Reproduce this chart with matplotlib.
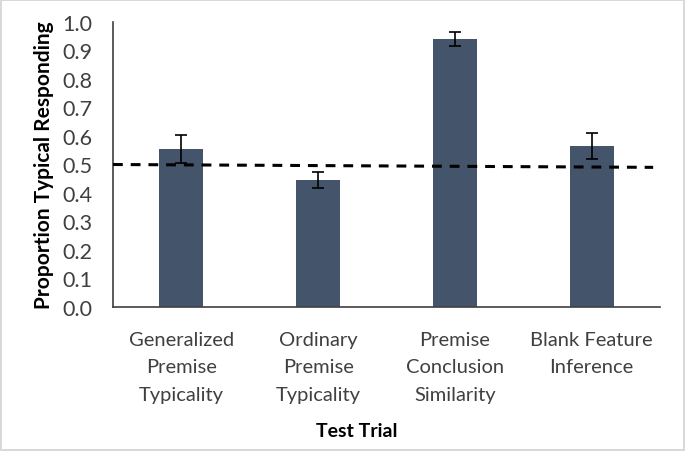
import matplotlib
matplotlib.use("Agg")
import matplotlib.pyplot as plt

categories = ["Generalized\nPremise\nTypicality", "Ordinary\nPremise\nTypicality",
              "Premise\nConclusion\nSimilarity", "Blank Feature\nInference"]
values = [0.555, 0.447, 0.940, 0.565]
errors = [0.050, 0.028, 0.025, 0.047]
yticks = [0.0, 0.1, 0.2, 0.3, 0.4, 0.5, 0.6, 0.7, 0.8, 0.9, 1.0]

plt.rcParams['font.family'] = ['Lato', 'DejaVu Sans']

fig = plt.figure(figsize=(6.85, 4.52), dpi=100)
fig.patch.set_edgecolor('#d9d9d9')
fig.patch.set_linewidth(1.5)
ax = fig.add_axes([113 / 685, 1 - 308 / 452, (660 - 113) / 685, (308 - 23) / 452])

x = list(range(len(categories)))
ax.bar(x, values, width=0.32, color='#44546A', zorder=2)
ax.errorbar(x, values, yerr=errors, fmt='none', ecolor='black', elinewidth=1.2,
            capsize=4, capthick=1.2, zorder=3)

# chance line, slightly tilted as in the original
ax.plot([-0.5, 3.45], [0.5, 0.49], linestyle=(0, (3.2, 2.6)), color='black', lw=2.2, zorder=4)

ax.set_xlim(-0.5, 3.5)
ax.set_ylim(0, 1.0)
ax.set_yticks(yticks)
ax.set_yticklabels([f"{t:.1f}" for t in yticks])
ax.set_xticks(x)
ax.set_xticklabels(categories, linespacing=1.75)
ax.tick_params(axis='y', length=0, pad=15, labelsize=15.5, labelcolor='#404040')
ax.tick_params(axis='x', length=0, pad=17, labelsize=14.5, labelcolor='#404040')

for s in ['top', 'right']:
    ax.spines[s].set_visible(False)
ax.spines['left'].set_color('#404040')
ax.spines['bottom'].set_color('#404040')
ax.spines['left'].set_linewidth(1.2)
ax.spines['bottom'].set_linewidth(1.2)

ax.set_ylabel("Proportion Typical Responding", fontsize=15, fontweight='bold')
ax.yaxis.set_label_coords(-0.108, 0.5)
fig.text(357 / 685, 1 - 432 / 452, "Test Trial", fontsize=14, fontweight='bold',
         ha='center', va='center')

fig.savefig("out.png", dpi=100, edgecolor=fig.get_edgecolor())
